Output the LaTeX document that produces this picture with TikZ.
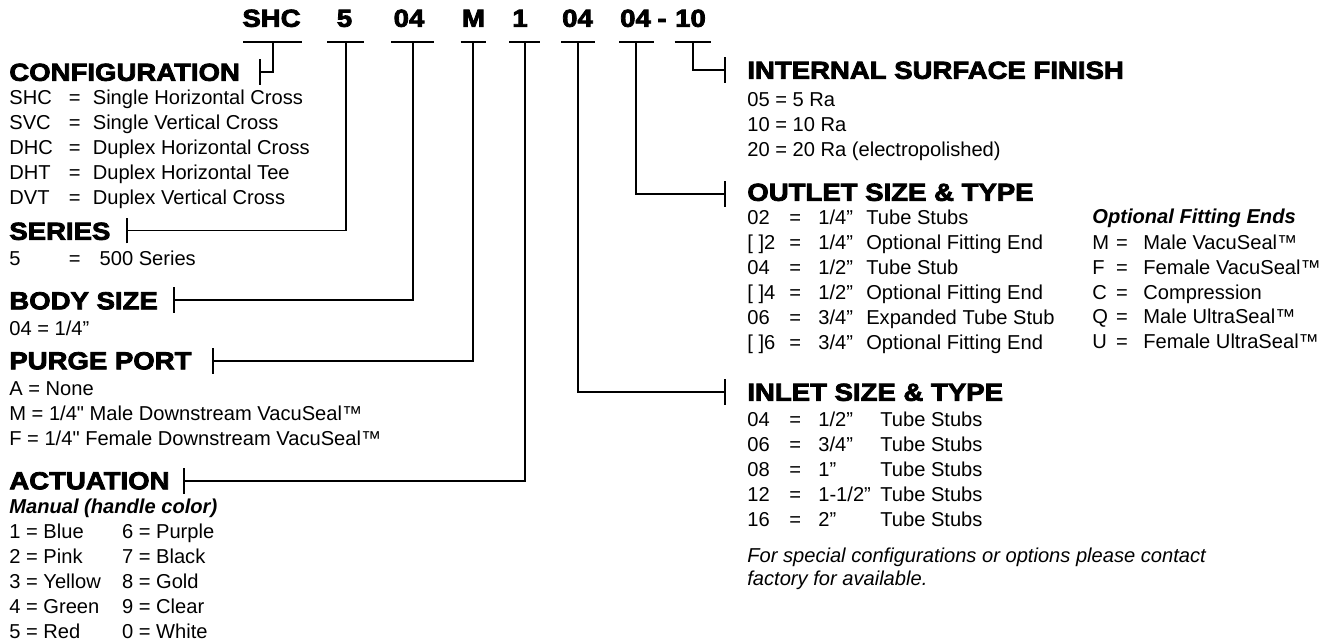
\documentclass[tikz,border=0pt]{standalone}
\usepackage{fontspec}
\setmainfont{Liberation Sans}
\newfontfamily\headfont[FakeBold=3.2,FakeStretch=1.12]{Liberation Sans Bold}
\usetikzlibrary{arrows.meta}

\newdimen\pxu \pxu=0.02cm
\newcommand{\cbox}[2]{\makebox[#1\pxu][l]{#2}}
\newcommand{\ebox}[1]{\makebox[#1\pxu][c]{=}}
\newcommand{\sq}{{\addfontfeature{Ligatures=TeXOff}"}}

\begin{document}
\begin{tikzpicture}[x=0.02cm, y=-0.02cm]
  \tikzstyle{code} = [font=\headfont\fontsize{14}{16}\selectfont, inner sep=0pt, text height=10pt, text depth=0pt]
  \tikzstyle{head} = [code, anchor=west]
  \tikzstyle{txt} = [font=\fontsize{11.45}{14.17}\selectfont, inner sep=0pt, text height=8.2pt, text depth=0pt, anchor=west]
  \tikzstyle{sub} = [txt, font=\fontsize{11.45}{14.17}\selectfont\bfseries\itshape]
  \tikzstyle{list} = [font=\fontsize{11.45}{14.17}\selectfont, inner sep=0pt, anchor=north west]
  \tikzstyle{lead} = [line width=1.1pt]
  \tikzstyle{tick} = [lead, -{Bar[width=14.7pt]}]
  \useasboundingbox (0,0) rectangle (1330,643);

  % part number
  \node[code] (kcfg) at (271.5,18) {SHC};
  \node[code] (kser) at (344.5,18) {5};
  \node[code] (kbody) at (409,18) {04};
  \node[code] (kport) at (473.5,18) {M};
  \node[code] (kact) at (520,18) {1};
  \node[code] (kin) at (577.5,18) {04};
  \node[code] (kout) at (635.5,18) {04};
  \node[code] (kdash) at (662,18) {-};
  \node[code] (kfin) at (690.5,18) {10};

  \coordinate (ucfg) at (272.6,41.6);
  \coordinate (user) at (345.6,41.6);
  \coordinate (ubody) at (412.8,41.6);
  \coordinate (uport) at (473.4,41.6);
  \coordinate (uact) at (524.7,41.6);
  \coordinate (uin) at (578.2,41.6);
  \coordinate (uout) at (636.3,41.6);
  \coordinate (ufin) at (692.8,41.6);
  \draw[lead] (ucfg) ++(-29.5,0) -- ++(59,0);
  \draw[lead] (user) ++(-18.2,0) -- ++(36.4,0);
  \draw[lead] (ubody) ++(-21.5,0) -- ++(43,0);
  \draw[lead] (uport) ++(-12.7,0) -- ++(25.4,0);
  \draw[lead] (uact) ++(-15.3,0) -- ++(30.6,0);
  \draw[lead] (uin) ++(-17.2,0) -- ++(34.4,0);
  \draw[lead] (uout) ++(-17.3,0) -- ++(34.6,0);
  \draw[lead] (ufin) ++(-18.2,0) -- ++(36.4,0);

  % headings
  \node[head] (hcfg) at (9,72) {CONFIGURATION};
  \node[head] (hser) at (9,231) {SERIES};
  \node[head] (hbody) at (9,300.5) {BODY SIZE};
  \node[head] (hport) at (9,360.5) {PURGE PORT};
  \node[head] (hact) at (9,480.5) {ACTUATION};
  \node[head] (hfin) at (747,70) {INTERNAL SURFACE FINISH};
  \node[head] (hout) at (747,192) {OUTLET SIZE \& TYPE};
  \node[head] (hin) at (747,392) {INLET SIZE \& TYPE};

  \coordinate (tcfg) at (259,72);
  \coordinate (tser) at (126,230.5);
  \coordinate (tbody) at (173,300);
  \coordinate (tport) at (212,361);
  \coordinate (tact) at (183,481);
  \coordinate (tfin) at (726,70);
  \coordinate (tout) at (726,194);
  \coordinate (tin) at (726,392);
  \draw[tick] (ucfg) |- (tcfg);
  \draw[tick] (user) |- (tser);
  \draw[tick] (ubody) |- (tbody);
  \draw[tick] (uport) |- (tport);
  \draw[tick] (uact) |- (tact);
  \draw[tick] (ufin) |- (tfin);
  \draw[tick] (uout) |- (tout);
  \draw[tick] (uin) |- (tin);

  % left column
  \node[list] (lcfg) at (9,87) {\begin{tabular}{@{}l@{}}
    \cbox{47.5}{SHC}\ebox{36}Single Horizontal Cross\\
    \cbox{47.5}{SVC}\ebox{36}Single Vertical Cross\\
    \cbox{47.5}{DHC}\ebox{36}Duplex Horizontal Cross\\
    \cbox{47.5}{DHT}\ebox{36}Duplex Horizontal Tee\\
    \cbox{47.5}{DVT}\ebox{36}Duplex Vertical Cross
  \end{tabular}};
  \node[txt] (lser) at (9,258) {\cbox{40.7}{5}\ebox{49.6}500 Series};
  \node[txt] (lbody) at (9,328) {04 = 1/4”};
  \node[list] (lport) at (9,377.75) {\begin{tabular}{@{}l@{}}
    A = None\\
    M = 1/4\sq{} Male Downstream VacuSeal™\\
    F = 1/4\sq{} Female Downstream VacuSeal™
  \end{tabular}};
  \node[sub] (lman) at (9,506) {Manual (handle color)};
  \node[list] (lcol) at (9,520.75) {\begin{tabular}{@{}l@{}}
    \cbox{112.7}{1 = Blue}6 = Purple\\
    \cbox{112.7}{2 = Pink}7 = Black\\
    \cbox{112.7}{3 = Yellow}8 = Gold\\
    \cbox{112.7}{4 = Green}9 = Clear\\
    \cbox{112.7}{5 = Red}0 = White
  \end{tabular}};

  % right column
  \node[list] (lfin) at (747,89) {\begin{tabular}{@{}l@{}}
    05 = 5 Ra\\
    10 = 10 Ra\\
    20 = 20 Ra (electropolished)
  \end{tabular}};
  \node[list] (lout) at (747,207) {\begin{tabular}{@{}l@{}}
    \cbox{25}{02}\ebox{46}\cbox{48}{1/4”}Tube Stubs\\
    \cbox{25}{[ ]2}\ebox{46}\cbox{48}{1/4”}Optional Fitting End\\
    \cbox{25}{04}\ebox{46}\cbox{48}{1/2”}Tube Stub\\
    \cbox{25}{[ ]4}\ebox{46}\cbox{48}{1/2”}Optional Fitting End\\
    \cbox{25}{06}\ebox{46}\cbox{48}{3/4”}Expanded Tube Stub\\
    \cbox{25}{[ ]6}\ebox{46}\cbox{48}{3/4”}Optional Fitting End
  \end{tabular}};
  \node[sub] (lopt) at (1092,216.7) {Optional Fitting Ends};
  \node[list] (lend) at (1092,231.5) {\begin{tabular}{@{}l@{}}
    \cbox{8.4}{M}\ebox{42.6}Male VacuSeal™\\
    \cbox{8.4}{F}\ebox{42.6}Female VacuSeal™\\
    \cbox{8.4}{C}\ebox{42.6}Compression\\
    \cbox{8.4}{Q}\ebox{42.6}Male UltraSeal™\\
    \cbox{8.4}{U}\ebox{42.6}Female UltraSeal™
  \end{tabular}};
  \node[list] (lin) at (747,409) {\begin{tabular}{@{}l@{}}
    \cbox{25}{04}\ebox{46}\cbox{62}{1/2”}Tube Stubs\\
    \cbox{25}{06}\ebox{46}\cbox{62}{3/4”}Tube Stubs\\
    \cbox{25}{08}\ebox{46}\cbox{62}{1”}Tube Stubs\\
    \cbox{25}{12}\ebox{46}\cbox{62}{1-1/2”}Tube Stubs\\
    \cbox{25}{16}\ebox{46}\cbox{62}{2”}Tube Stubs
  \end{tabular}};
  \node[list, font=\fontsize{11.45}{13.04}\selectfont\itshape] (lnote) at (747,546) {\begin{tabular}{@{}l@{}}
    For special configurations or options please contact\\
    factory for available.
  \end{tabular}};
\end{tikzpicture}
\end{document}
